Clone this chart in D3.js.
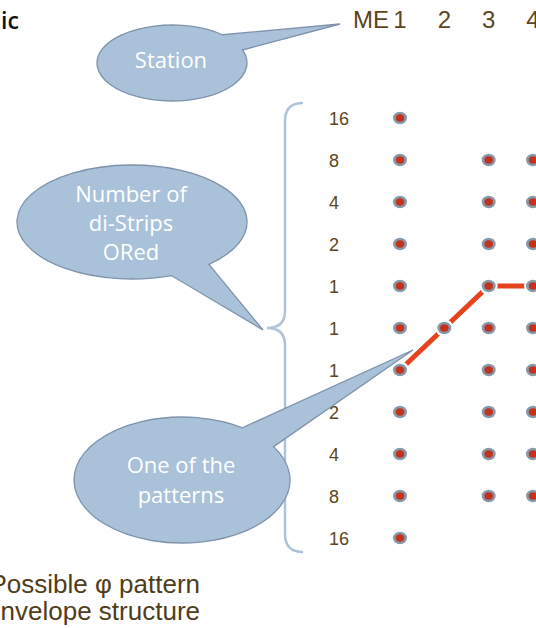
<!DOCTYPE html>
<html>
<head>
<meta charset="utf-8">
<script src="https://cdn.jsdelivr.net/npm/d3@7"></script>
<style>
  html, body { margin: 0; padding: 0; background: #fff; }
  svg { display: block; }
</style>
</head>
<body>
<div id="chart"></div>
<script>
// ---- data ----
const stations = ["1", "2", "3", "4"];
const stationPrefix = "ME";
const rowLabels = ["16", "8", "4", "2", "1", "1", "1", "2", "4", "8", "16"];
// which rows (indices into rowLabels) have a dot, per station
const station1Rows = [0, 1, 2, 3, 4, 5, 6, 7, 8, 9, 10];
const station2Rows = [5];
const station3Rows = [1, 2, 3, 4, 5, 6, 7, 8, 9];
const station4Rows = [1, 2, 3, 4, 5, 6, 7, 8, 9];
const dotRows = [station1Rows, station2Rows, station3Rows, station4Rows];
// one of the patterns: row index for each station
const patternRows = [6, 5, 4, 4];
const calloutTexts = [["Station"], ["Number of", "di-Strips", "ORed"], ["One of the", "patterns"]];
const titleText = "ic";
const captionLines = ["Possible \u03c6 pattern", "envelope structure"];

// ---- drawing ----
const W = 536, H = 628;
const svg = d3.select("#chart").append("svg").attr("width", W).attr("height", H);

const x = d3.scalePoint().domain(stations).range([400, 533]);
const y = d3.scalePoint().domain(d3.range(rowLabels.length)).range([118, 538]);

const brown = "#5b4620";
const calloutFill = "#a9c1d9";
const calloutStroke = "#7e93ab";

// title fragment
svg.append("text").attr("x", 1).attr("y", 29)
  .attr("font-family", "Open Sans, sans-serif").attr("font-size", 23).attr("font-weight", 600)
  .attr("fill", "#111").text(titleText);

// header
svg.append("text").attr("x", x(stations[0]) - 11).attr("y", 28)
  .attr("text-anchor", "end").attr("font-family", "Liberation Sans, Arial, sans-serif")
  .attr("font-size", 24).attr("fill", brown).text(stationPrefix);
svg.selectAll("text.st").data(stations).join("text").attr("class", "st")
  .attr("x", d => x(d)).attr("y", 28).attr("text-anchor", "middle")
  .attr("font-family", "Liberation Sans, Arial, sans-serif")
  .attr("font-size", 24).attr("fill", brown).text(d => d);

// row labels
svg.selectAll("text.row").data(rowLabels).join("text").attr("class", "row")
  .attr("x", 329).attr("y", (d, i) => y(i) + 7)
  .attr("font-family", "Liberation Sans, Arial, sans-serif")
  .attr("font-size", 18).attr("fill", brown).text(d => d);

// brace
const yTop = y(0) - 15, yBot = y(rowLabels.length - 1) + 14, yMid = (y(5));
const bx = 285;
svg.append("path")
  .attr("d", `M${bx + 18},${yTop} Q${bx},${yTop} ${bx},${yTop + 18} L${bx},${yMid - 17} Q${bx},${yMid} ${bx - 18},${yMid} Q${bx},${yMid} ${bx},${yMid + 17} L${bx},${yBot - 18} Q${bx},${yBot} ${bx + 18},${yBot}`)
  .attr("fill", "none").attr("stroke", "#adc3da").attr("stroke-width", 2.5);

// pattern line
const patternPts = patternRows.map((r, i) => [x(stations[i]), y(r)]);
svg.append("path").datum(patternPts)
  .attr("d", d3.line())
  .attr("fill", "none").attr("stroke", "#e8411d").attr("stroke-width", 5);

// dots
const dots = [];
dotRows.forEach((rows, si) => rows.forEach(r => dots.push({ s: stations[si], r, onPath: patternRows[si] === r })));
const g = svg.append("g");
g.selectAll("circle.halo").data(dots.filter(d => d.onPath)).join("circle").attr("class", "halo")
  .attr("cx", d => x(d.s)).attr("cy", d => y(d.r)).attr("r", 9).attr("fill", "#fff");
g.selectAll("ellipse.outer").data(dots).join("ellipse").attr("class", "outer")
  .attr("cx", d => x(d.s)).attr("cy", d => y(d.r)).attr("rx", 7).attr("ry", 6.2).attr("fill", "#8799ad");
g.selectAll("ellipse.inner").data(dots).join("ellipse").attr("class", "inner")
  .attr("cx", d => x(d.s)).attr("cy", d => y(d.r)).attr("rx", 4.3).attr("ry", 3.7).attr("fill", "#c2331b");

// callouts
function callout(cx, cy, rx, ry, a1, a2, tip) {
  const r = Math.PI / 180;
  const p1 = [cx + rx * Math.cos(a1 * r), cy + ry * Math.sin(a1 * r)];
  const p2 = [cx + rx * Math.cos(a2 * r), cy + ry * Math.sin(a2 * r)];
  return `M${p1[0]},${p1[1]} L${tip[0]},${tip[1]} L${p2[0]},${p2[1]} A${rx},${ry} 0 1 1 ${p1[0]},${p1[1]} Z`;
}
const callouts = [
  { cx: 172, cy: 63, rx: 75, ry: 38, a1: -48, a2: -20, tip: [340, 24], text: calloutTexts[0], ty: 68, lh: 0 },
  { cx: 132, cy: 222, rx: 115, ry: 57, a1: 48, a2: 70, tip: [263, 330], text: calloutTexts[1], ty: 202, lh: 29 },
  { cx: 182, cy: 480, rx: 108, ry: 63, a1: -56, a2: -32, tip: [413, 350], text: calloutTexts[2], ty: 473, lh: 30 }
];
callouts.forEach(c => {
  svg.append("path").attr("d", callout(c.cx, c.cy, c.rx, c.ry, c.a1, c.a2, c.tip))
    .attr("fill", calloutFill).attr("stroke", calloutStroke).attr("stroke-width", 1.3);
  c.text.forEach((t, i) => {
    svg.append("text").attr("x", c.cx - 1).attr("y", c.ty + i * c.lh)
      .attr("text-anchor", "middle").attr("font-family", "Open Sans, sans-serif")
      .attr("font-size", 22).attr("fill", "#fff").text(t);
  });
});

// caption
captionLines.forEach((t, i) => {
  svg.append("text").attr("x", 200).attr("y", 593 + i * 27).attr("text-anchor", "end")
    .attr("font-family", "Liberation Sans, Arial, sans-serif").attr("font-size", 26)
    .attr("fill", "#4f3d1a").text(t);
});
</script>
</body>
</html>
